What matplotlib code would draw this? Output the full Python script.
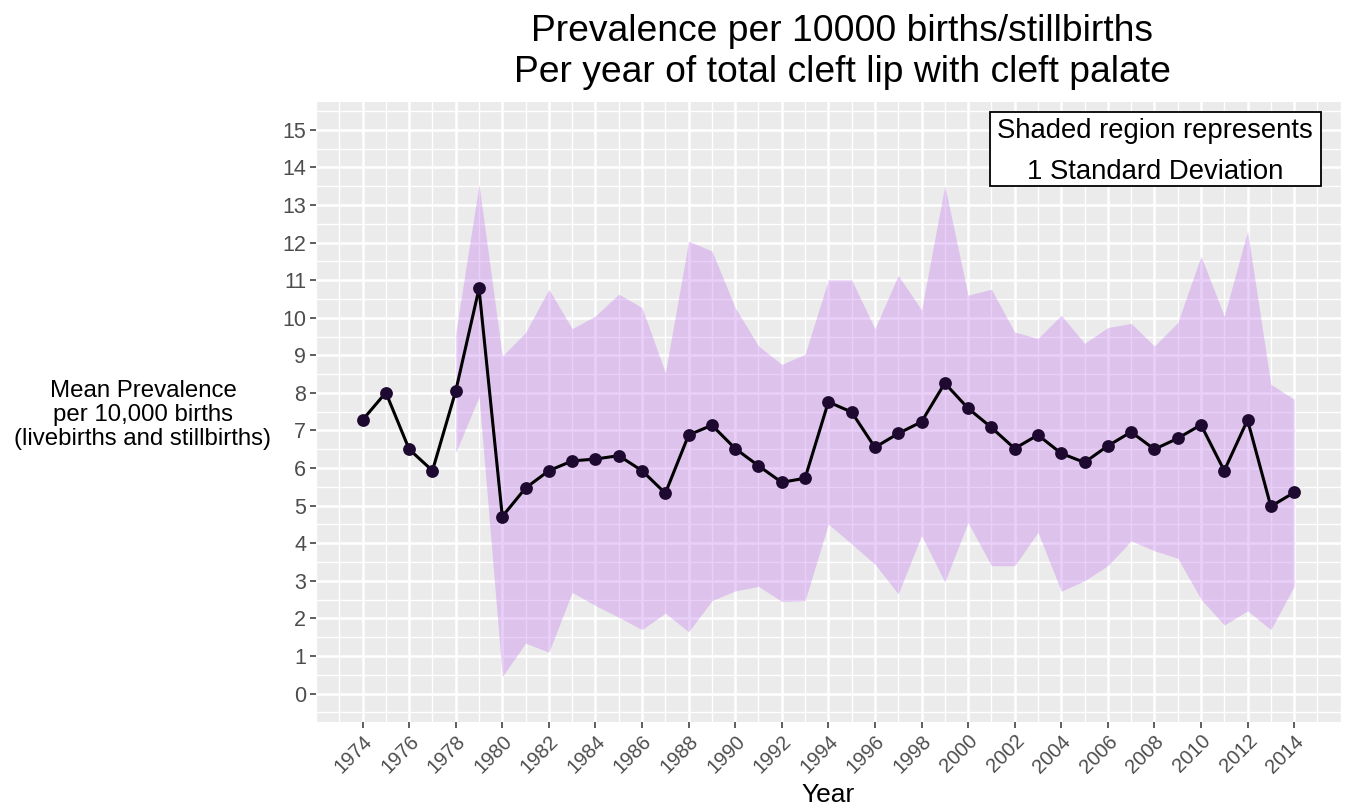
import matplotlib
matplotlib.use("Agg")
import matplotlib.pyplot as plt
import numpy as np
from matplotlib.patches import Rectangle
from matplotlib.transforms import ScaledTranslation

plt.rcParams['font.family'] = ['Liberation Sans', 'DejaVu Sans']

years = list(range(1974, 2015))
mean_prev = [7.28, 8.01, 6.50, 5.93, 8.05, 10.78, 4.71, 5.47, 5.93, 6.19,
             6.24, 6.33, 5.93, 5.33, 6.88, 7.14, 6.52, 6.06, 5.62, 5.73,
             7.76, 7.49, 6.55, 6.92, 7.23, 8.26, 7.59, 7.08, 6.52, 6.88,
             6.39, 6.15, 6.59, 6.96, 6.50, 6.79, 7.15, 5.93, 7.28, 4.98, 5.35]

sd_years = list(range(1978, 2015))
upper = [9.60, 13.55, 8.98, 9.61, 10.76, 9.71, 10.05, 10.63, 10.27, 8.54,
         12.04, 11.78, 10.27, 9.25, 8.76, 9.03, 11.01, 11.01, 9.71, 11.13,
         10.21, 13.52, 10.60, 10.76, 9.62, 9.45, 10.07, 9.32, 9.74, 9.85,
         9.25, 9.87, 11.64, 10.05, 12.31, 8.23, 7.83]
lower = [6.41, 7.90, 0.45, 1.34, 1.10, 2.69, 2.34, 2.03, 1.70, 2.14,
         1.64, 2.47, 2.73, 2.85, 2.45, 2.47, 4.51, 3.98, 3.44, 2.65,
         4.20, 2.97, 4.55, 3.40, 3.40, 4.29, 2.72, 3.00, 3.40, 4.06,
         3.80, 3.60, 2.51, 1.82, 2.20, 1.70, 2.85]

x_ticks = list(range(1974, 2015, 2))
y_ticks = list(range(0, 16))

fig = plt.figure(figsize=(13.48, 8.08), dpi=100)
ax = fig.add_axes([316/1348, 1-721.7/808, (1340.7-316)/1348, (721.7-101.7)/808])
ax.set_facecolor('#EBEBEB')
for s in ax.spines.values():
    s.set_visible(False)

ax.set_xlim(1972, 2016)
ax.set_ylim(-0.75, 15.75)

# grid
for yv in np.arange(-0.5, 16.0, 0.5):
    lw = 1.8 if float(yv).is_integer() else 1.0
    ax.axhline(yv, color='white', lw=lw, zorder=0.5)
for xv in range(1972, 2017):
    lw = 1.8 if (xv % 2 == 0 and 1974 <= xv <= 2014) else 1.0
    ax.axvline(xv, color='white', lw=lw, zorder=0.5)

ax.fill_between(sd_years, lower, upper, color='#C37BEE', alpha=0.35,
                linewidth=0, zorder=1)
ax.plot(years, mean_prev, color='black', lw=2.2, zorder=2)
ax.scatter(years, mean_prev, s=85, color='#1E0A30', zorder=3, linewidths=0)

ax.set_xticks(x_ticks)
ax.set_xticklabels([str(v) for v in x_ticks], rotation=45, ha='right',
                   rotation_mode='anchor', fontsize=14.5, color='#4D4D4D')
offset = ScaledTranslation(6/100, 0, fig.dpi_scale_trans)
for lab in ax.get_xticklabels():
    lab.set_transform(lab.get_transform() + offset)
ax.set_yticks(y_ticks)
ax.set_yticklabels([str(v) for v in y_ticks], fontsize=15.5, color='#4D4D4D')
ax.tick_params(axis='both', length=4, width=1.1, color='#333333', pad=3)
ax.tick_params(axis='x', pad=3)

fig.text(828/1348, 1-795/808, 'Year', ha='center', va='center', fontsize=19)

fig.text(143/1348, 1-415/808,
         'Mean Prevalence\nper 10,000 births\n(livebirths and stillbirths)',
         ha='center', va='center', fontsize=17.3, linespacing=1.1)

fig.text(842/1348, 1-52/808,
         'Prevalence per 10000 births/stillbirths\nPer year of total cleft lip with cleft palate',
         ha='center', va='center', fontsize=26.8, linespacing=1.2)

# annotation box
ax.add_patch(Rectangle((0.6578, 0.864), 0.9808-0.6578, 0.9834-0.864,
                       transform=ax.transAxes, facecolor='white',
                       edgecolor='black', lw=1.3, zorder=4))
ax.text(0.8188, 0.9527, 'Shaded region represents', transform=ax.transAxes,
        ha='center', va='center', fontsize=19.8, zorder=5)
ax.text(0.8188, 0.8866, '1 Standard Deviation', transform=ax.transAxes,
        ha='center', va='center', fontsize=19.8, zorder=5)

fig.savefig('out.png', dpi=100)
